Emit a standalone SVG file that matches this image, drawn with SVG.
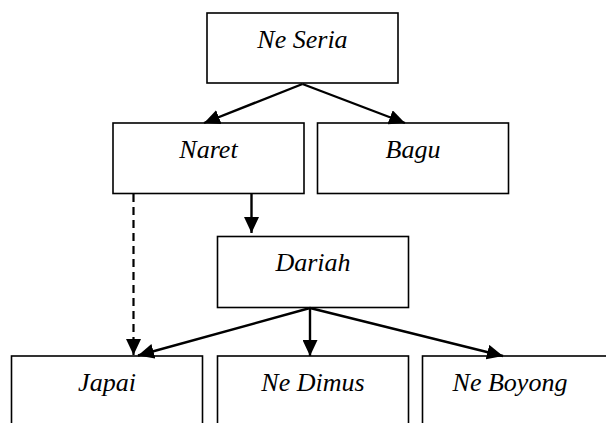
<svg xmlns="http://www.w3.org/2000/svg" width="606" height="423" viewBox="0 0 606 423">
<style>
.box{fill:#fff;stroke:#000;stroke-width:1.6}
.lbl{font-family:'Liberation Serif','Times New Roman',serif;font-style:italic;font-size:26px;text-anchor:middle;fill:#000}
.c{stroke:#000;stroke-width:2.4;fill:none}
.d{stroke:#000;stroke-width:2.2;fill:none;stroke-dasharray:8 5}
</style>
<defs>
<marker id="ah" markerUnits="userSpaceOnUse" markerWidth="17" markerHeight="15" refX="16" refY="7.5" orient="auto">
<path d="M0,0 L16,7.5 L0,15 Z" fill="#000"/>
</marker>
</defs>
<rect width="606" height="423" fill="#fff"/>
<g id="ne-seria"><rect class="box" x="207" y="13" width="191" height="70"/><text class="lbl" x="302.5" y="48">Ne Seria</text></g>
<g id="naret"><rect class="box" x="113" y="123" width="191" height="70.5"/><text class="lbl" x="208.5" y="158">Naret</text></g>
<g id="bagu"><rect class="box" x="317.5" y="123" width="191" height="70.5"/><text class="lbl" x="413" y="158">Bagu</text></g>
<g id="dariah"><rect class="box" x="217.5" y="236.5" width="191" height="71"/><text class="lbl" x="313" y="271">Dariah</text></g>
<g id="japai"><rect class="box" x="11.5" y="356" width="191" height="80"/><text class="lbl" x="107" y="391">Japai</text></g>
<g id="ne-dimus"><rect class="box" x="217.5" y="356" width="191" height="80"/><text class="lbl" x="313" y="391">Ne Dimus</text></g>
<g id="ne-boyong"><rect class="box" x="422.5" y="356" width="200" height="80"/><text class="lbl" x="510" y="391">Ne Boyong</text></g>
<g id="connectors">
<line class="c" x1="302.5" y1="84" x2="204" y2="123" marker-end="url(#ah)"/>
<line class="c" x1="302.5" y1="84" x2="405" y2="123" marker-end="url(#ah)"/>
<line class="c" x1="251.5" y1="194" x2="251.5" y2="233" marker-end="url(#ah)"/>
<line class="d" x1="133.5" y1="194" x2="133.5" y2="355" marker-end="url(#ah)"/>
<line class="c" x1="310" y1="308" x2="138" y2="355.5" marker-end="url(#ah)"/>
<line class="c" x1="310" y1="308" x2="310" y2="356" marker-end="url(#ah)"/>
<line class="c" x1="310" y1="308" x2="503" y2="356" marker-end="url(#ah)"/>
</g>
</svg>
